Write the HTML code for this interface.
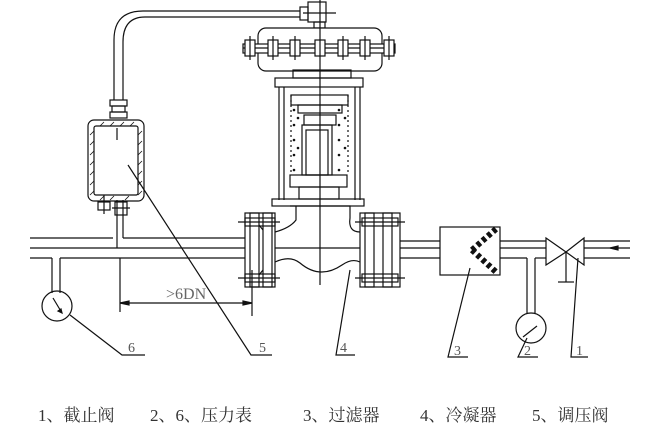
<!DOCTYPE html>
<html><head><meta charset="utf-8"><style>
body{margin:0;background:#fff;width:651px;height:447px;overflow:hidden}
svg{display:block}
</style></head><body>
<svg width="651" height="447" viewBox="0 0 651 447" xmlns="http://www.w3.org/2000/svg" fill="none" stroke="#111" stroke-width="1.2" font-family="Liberation Serif, serif">
<line x1="30" y1="238" x2="113" y2="238"/><line x1="123" y1="238" x2="245" y2="238"/>
<line x1="30" y1="248" x2="245" y2="248"/>
<line x1="30" y1="258" x2="52" y2="258"/><line x1="60" y1="258" x2="245" y2="258"/>
<line x1="52" y1="258" x2="52" y2="293"/><line x1="60" y1="258" x2="60" y2="293"/>
<circle cx="57" cy="306" r="15"/><line x1="53" y1="298" x2="62" y2="313"/><path d="M62 313 l-4 -2 l3 -2z" fill="#111"/>
<line x1="117" y1="200" x2="117" y2="248"/><line x1="123" y1="200" x2="123" y2="238"/>
<rect x="115" y="202" width="12" height="13"/><line x1="112" y1="208" x2="130" y2="208"/>
<rect x="98" y="202" width="12" height="8"/><line x1="104" y1="195" x2="104" y2="214"/>
<rect x="88" y="120" width="56" height="81" rx="6"/>
<rect x="94" y="126" width="44" height="69" rx="2"/>
<g stroke-width="0.8">
<path d="M90 135 l4 -4 M90 145l4-4M90 155l4-4M90 165l4-4M90 175l4-4M90 185l4-4M90 195l4-4M138 135l4-4M138 145l4-4M138 155l4-4M138 165l4-4M138 175l4-4M138 185l4-4M138 195l4-4M100 126l4-4M110 126l4-4M120 126l4-4M130 126l4-4M100 200l4-4M110 200l4-4M125 200l4-4"/>
</g>
<line x1="117" y1="128" x2="117" y2="140"/>
<rect x="110" y="100" width="17" height="6"/><rect x="112" y="106" width="13" height="6"/><rect x="110" y="112" width="17" height="6"/>
<path d="M114 100 V40 Q114 11 143 11 H300"/>
<path d="M123 100 V42 Q123 17 145 17 H300"/>
<rect x="300" y="7" width="8" height="13"/>
<rect x="308" y="2" width="18" height="20"/>
<line x1="303" y1="13" x2="336" y2="13"/>
<rect x="314" y="22" width="11" height="6"/>
<rect x="258" y="28" width="124" height="43" rx="8" fill="#fff"/>
<rect x="243" y="44" width="152" height="9" fill="#fff"/>
<line x1="243" y1="48" x2="395" y2="48"/>
<g fill="#fff"><rect x="245" y="40" width="10" height="16"/><rect x="268" y="40" width="10" height="16"/><rect x="290" y="40" width="10" height="16"/><rect x="315" y="40" width="10" height="16"/><rect x="338" y="40" width="10" height="16"/><rect x="360" y="40" width="10" height="16"/><rect x="384" y="40" width="10" height="16"/></g>
<path d="M250 36V60M273 36V60M295 36V60M343 36V60M365 36V60M389 36V60"/>
<rect x="293" y="70" width="58" height="8"/>
<rect x="275" y="78" width="88" height="9"/>
<line x1="279" y1="87" x2="279" y2="200"/><line x1="284" y1="87" x2="284" y2="200"/>
<line x1="355" y1="87" x2="355" y2="200"/><line x1="360" y1="87" x2="360" y2="200"/>
<rect x="291" y="95" width="57" height="10"/>
<rect x="298" y="105" width="44" height="8"/>
<rect x="304" y="115" width="32" height="10"/>
<rect x="302" y="125" width="30" height="50"/><rect x="306" y="130" width="22" height="45"/>
<rect x="290" y="175" width="57" height="12"/>
<rect x="299" y="187" width="40" height="12"/>
<rect x="272" y="199" width="92" height="7"/>
<line x1="320" y1="0" x2="320" y2="285"/>
<g fill="#111" stroke="none"><circle cx="294" cy="110" r="1.3"/><circle cx="294" cy="125" r="1.3"/><circle cx="294" cy="140" r="1.3"/><circle cx="294" cy="155" r="1.3"/><circle cx="294" cy="170" r="1.3"/><circle cx="298" cy="118" r="1.3"/><circle cx="298" cy="148" r="1.3"/><circle cx="339" cy="110" r="1.3"/><circle cx="339" cy="125" r="1.3"/><circle cx="339" cy="140" r="1.3"/><circle cx="339" cy="155" r="1.3"/><circle cx="339" cy="170" r="1.3"/><circle cx="345" cy="118" r="1.3"/><circle cx="345" cy="148" r="1.3"/></g>
<path d="M291 95V175M348 95V175" stroke-dasharray="2 3"/>
<path d="M290 206 H350 V218 Q348 232 360 232"/>
<path d="M296 206 V220 Q290 228 275 232"/>
<path d="M275 262 Q290 255 300 263 Q320 280 342 265 Q352 258 360 262"/>
<rect x="245" y="213" width="30" height="74" fill="#fff"/>
<rect x="250" y="213" width="9" height="74"/><rect x="263" y="213" width="9" height="74"/>
<path d="M259 225 L263 230 M259 275 L263 270"/>
<line x1="238" y1="222" x2="280" y2="222"/><line x1="238" y1="278" x2="280" y2="278"/>
<rect x="245" y="218" width="30" height="8"/><rect x="245" y="274" width="30" height="8"/>
<rect x="360" y="213" width="40" height="74" fill="#fff"/>
<rect x="365" y="213" width="9" height="74"/><rect x="383" y="213" width="9" height="74"/>
<line x1="355" y1="222" x2="405" y2="222"/><line x1="355" y1="278" x2="405" y2="278"/>
<rect x="362" y="218" width="36" height="8"/><rect x="362" y="274" width="36" height="8"/>
<line x1="275" y1="248" x2="360" y2="248"/>
<line x1="400" y1="241" x2="440" y2="241"/><line x1="400" y1="248" x2="440" y2="248"/><line x1="400" y1="258" x2="440" y2="258"/>
<rect x="440" y="227" width="60" height="48"/>
<path d="M472 250 L496 229 M472 250 L496 272" stroke-width="6" stroke-dasharray="4 3"/>
<line x1="500" y1="241" x2="546" y2="241"/><line x1="500" y1="248" x2="546" y2="248"/>
<line x1="500" y1="258" x2="527" y2="258"/><line x1="535" y1="258" x2="546" y2="258"/>
<line x1="527" y1="258" x2="527" y2="313"/><line x1="535" y1="258" x2="535" y2="313"/>
<circle cx="531" cy="328" r="15"/><line x1="537" y1="326" x2="523" y2="337"/>
<path d="M546 238 L566 252 L546 265 Z M584 238 L566 252 L584 265 Z"/>
<line x1="566" y1="252" x2="566" y2="282"/><line x1="558" y1="282" x2="574" y2="282"/>
<line x1="584" y1="241" x2="630" y2="241"/><line x1="584" y1="248" x2="630" y2="248"/><line x1="584" y1="258" x2="630" y2="258"/>
<path d="M610 248 l8 -2 v4z" fill="#111"/>
<line x1="120" y1="258" x2="120" y2="312"/><line x1="252" y1="270" x2="252" y2="316"/>
<line x1="120" y1="303" x2="252" y2="303"/>
<path d="M120 303 l9 -2 v4z M252 303 l-9 -2 v4z" fill="#111"/>
<text x="166" y="299" font-size="16" fill="#666" stroke="none">&gt;6DN</text>
<path d="M70 315 L122 355 H145"/>
<path d="M128 165 L251 355 H272"/>
<path d="M350 270 L336 355 H355"/>
<path d="M470 268 L448 357 H468"/>
<path d="M527 338 L518 357 H538"/>
<path d="M578 258 L571 357 H588"/>
<g fill="#555" stroke="none" font-size="14">
<text x="128" y="352">6</text><text x="259" y="352">5</text><text x="340" y="352">4</text><text x="454" y="355">3</text><text x="524" y="355">2</text><text x="576" y="355">1</text>
</g>
<g fill="#333" stroke="none" font-size="17" font-family="Liberation Serif, Noto Serif CJK SC, serif">
<text x="38" y="421">1、截止阀</text>
<text x="150" y="421">2、6、压力表</text>
<text x="303" y="421">3、过滤器</text>
<text x="420" y="421">4、冷凝器</text>
<text x="532" y="421">5、调压阀</text>
</g>
</svg>
</body></html>
